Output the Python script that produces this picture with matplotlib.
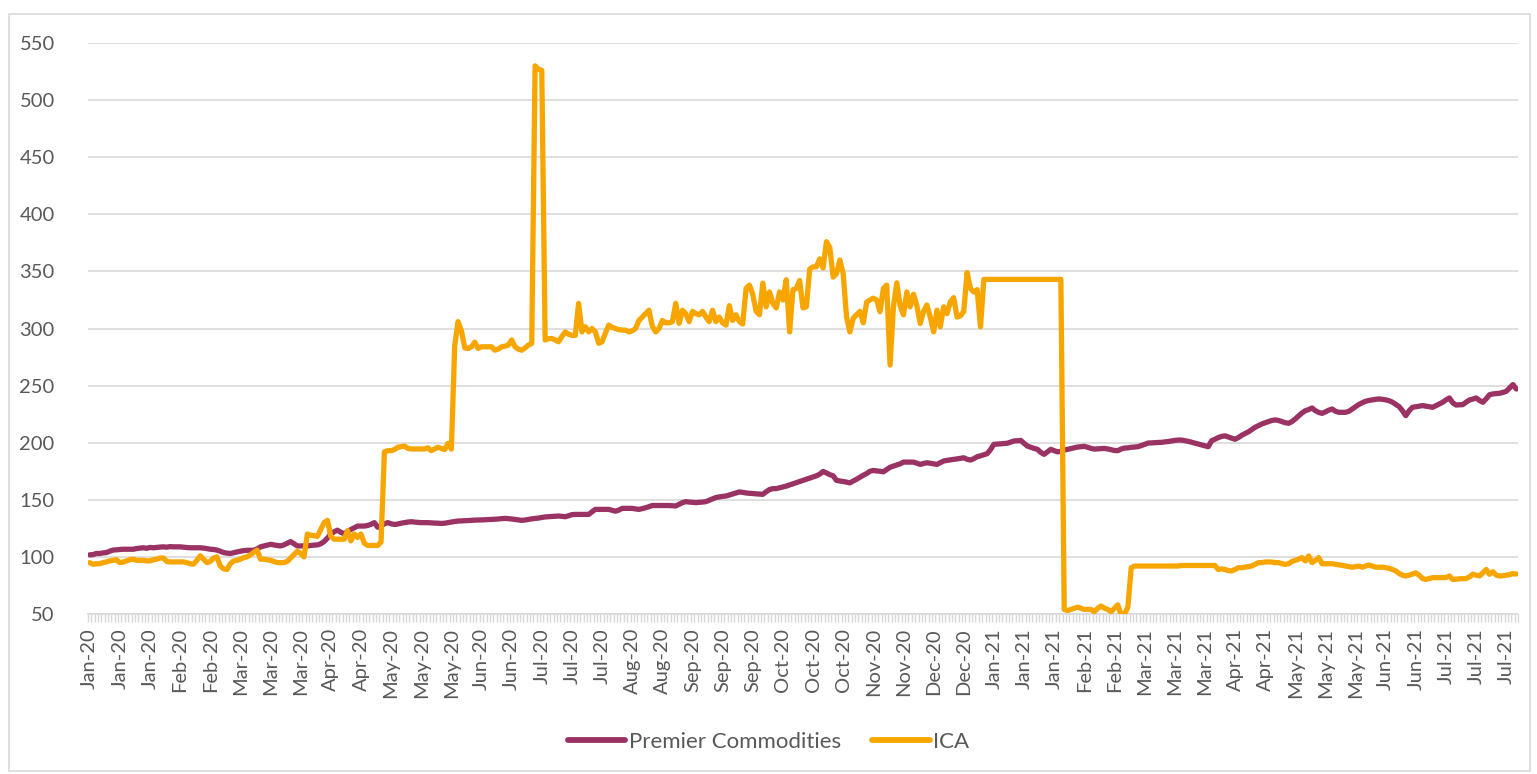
import matplotlib
matplotlib.use("Agg")
import matplotlib.pyplot as plt
from matplotlib.patches import Rectangle
import numpy as np

# one value per trading day, Jan-20 .. Jul-21
premier = [
    101.8, 102, 103, 103, 103.5, 103.8, 105, 106, 106.2, 106.5,
    106.7, 106.7, 106.7, 106.7, 107.3, 107.7, 108, 107.5, 108.3, 108,
    108.3, 108.6, 108.8, 108.5, 109, 108.8, 108.8, 108.8, 108.5, 108.2,
    108, 108, 108, 108, 107.7, 107.3, 106.7, 106.5, 106, 105,
    103.8, 103.3, 103, 103.7, 104.4, 105, 105.5, 105.8, 105.8, 105.8,
    107, 108.8, 109.5, 110.3, 111, 110.5, 110, 109.6, 110.5, 112,
    113.4, 111.5, 109.6, 109.6, 109.6, 109.6, 110, 110.3, 110.5, 111.5,
    113.4, 116.5, 120, 122, 123.4, 121.5, 120.4, 122, 124, 125.5,
    127, 127, 127, 127.5, 128.5, 130, 126, 127, 129, 130,
    129, 128.4, 128.8, 129.5, 130, 130.5, 130.8, 130.5, 130.2, 130,
    130, 130, 129.8, 129.6, 129.5, 129.3, 129.5, 130, 130.5, 131,
    131.4, 131.5, 131.7, 131.8, 132, 132.2, 132.3, 132.4, 132.5, 132.7,
    132.8, 133, 133.2, 133.5, 133.7, 133.5, 133.2, 132.8, 132.4, 132,
    132.3, 132.8, 133.3, 133.7, 134, 134.5, 135, 135.2, 135.4, 135.6,
    135.8, 135.5, 135.2, 136, 137, 137.2, 137.2, 137.2, 137.2, 137.2,
    139.5, 141.6, 141.6, 141.6, 141.6, 141.6, 140.8, 140, 141, 142.5,
    142.5, 142.5, 142.5, 142, 141.6, 142.3, 143, 144, 145, 145,
    145, 145, 145, 145, 144.8, 144.6, 146, 147.5, 148.4, 148,
    147.8, 147.5, 147.8, 148, 148.4, 149.6, 150.8, 152, 152.5, 153,
    153.3, 154.2, 155, 156, 156.9, 156.5, 156, 155.7, 155.5, 155.2,
    155, 154.8, 157, 159, 159.8, 159.8, 160.5, 161.2, 162, 163,
    164, 165, 166, 167, 168, 169, 170, 171, 172.5, 174.8,
    173.5, 172, 171, 167, 166.5, 166, 165.5, 164.8, 166.5, 168,
    169.8, 171.5, 173, 175, 175.7, 175.3, 175, 174.5, 176.5, 178.5,
    179.5, 180.5, 181.5, 183, 183, 183, 183, 182, 181, 181.8,
    182.4, 182, 181.5, 181, 182.5, 184, 184.5, 185, 185.4, 185.8,
    186.3, 186.8, 185.5, 184.8, 186, 187.7, 188.5, 189.5, 190.4, 194,
    198.6, 198.8, 199, 199.3, 199.5, 200.5, 201.5, 201.7, 202, 199.5,
    197, 196, 195, 194.2, 191.5, 189.8, 192, 194.2, 193, 192,
    192.4, 193.5, 194.2, 195, 195.5, 196.2, 196.5, 196.8, 196, 195,
    194.4, 194.6, 194.8, 195, 194.5, 193.8, 193.2, 193, 194.5, 195.3,
    195.5, 196, 196.2, 196.5, 197.5, 198.5, 199.7, 199.8, 200, 200.2,
    200.3, 200.7, 201, 201.5, 202, 202.3, 202.3, 201.8, 201.2, 200.4,
    199.5, 198.8, 198, 197.2, 196.5, 201.7, 203, 204.5, 205.5, 206,
    205, 204, 203, 204.5, 206.5, 208, 209.5, 211.5, 213.5, 215,
    216.4, 217.5, 218.5, 219.5, 219.9, 219.5, 218.5, 217.5, 217, 218.5,
    220.8, 223.5, 226, 228, 229, 230.4, 228, 226.5, 225.7, 227,
    228.5, 229.5, 227.5, 226.6, 226.6, 226.6, 227.5, 229.5, 231.6, 233.5,
    235, 236.3, 237, 237.5, 238, 238.3, 238, 237.5, 236.8, 235.5,
    233.5, 231.6, 228, 223.7, 228, 231, 231.5, 232, 232.5, 232,
    231.5, 231, 232.5, 234, 235.4, 237.5, 239.2, 235, 233, 233.2,
    233.3, 235.5, 237.4, 238.2, 239.2, 237, 235.4, 238.5, 242, 242.7,
    243, 243.3, 244, 245, 248, 250.9, 247,
]

ica = [
    95, 93.6, 94, 94, 95, 95.6, 96.5, 97, 97.5, 95,
    95.5, 96.5, 97.5, 98, 97, 97, 97, 96.5, 96.5, 97.5,
    98, 99, 99, 96, 95.6, 95.6, 95.6, 95.6, 95.6, 95,
    94, 93.6, 97, 101, 98, 95, 96, 99, 100, 92,
    89.5, 89, 94, 96.5, 97, 98, 99.4, 100, 101.8, 104,
    106, 98, 98, 97.5, 97, 96, 95, 95, 95, 96,
    99, 102, 105, 103, 100, 120, 119, 118.5, 118, 124,
    130, 132, 118, 115.5, 115.5, 115.5, 115.5, 123, 114, 120,
    117, 120, 112, 110, 110, 110, 110, 113, 192, 193,
    193, 194, 196, 196.5, 197, 195, 194.5, 194.5, 194.5, 194.5,
    194.5, 195.5, 193, 194.5, 196, 195, 194, 199.4, 194.4, 285,
    306, 298, 283, 282.5, 284, 288, 282.5, 284, 284, 284,
    284, 281, 282, 284, 284.5, 285.5, 290, 284, 282, 281,
    283, 285.5, 287, 530, 527, 526, 290, 291, 291.3, 290,
    288.4, 293, 297, 295, 294, 294, 322, 297, 301.6, 297,
    300, 297, 287, 288.4, 296, 303, 301, 300, 299, 298.6,
    298.6, 297, 298, 300, 307, 310, 313, 316, 302, 297,
    300, 307, 305, 305, 306, 322, 304.5, 316, 313, 306,
    315, 313, 312, 315, 310, 306, 316, 306, 310, 305,
    303, 320, 307, 312, 306, 304, 335, 338, 330, 315,
    312, 339.7, 319, 332, 322, 318, 332, 325, 342.7, 297,
    334, 335, 342, 318, 319, 352, 354, 354, 361, 353,
    376, 371, 345, 348, 360, 348, 310, 297, 309, 312,
    315, 305, 323, 325, 326.5, 325, 314.7, 335, 338, 268,
    319, 340, 320, 312, 332, 319, 330, 320, 304.4, 315,
    320.6, 310, 297, 316, 301.5, 319, 313, 323.5, 327, 310,
    311, 315, 349, 335, 332, 334, 301.5, 343, 343, 343,
    343, 343, 343, 343, 343, 343, 343, 343, 343, 343,
    343, 343, 343, 343, 343, 343, 343, 343, 343, 343,
    343, 54, 53, 54, 55, 56, 55, 54, 54, 54,
    52, 55, 57, 55, 54, 52, 55, 58, 49, 50,
    56, 90.5, 92, 92, 92, 92, 92, 92, 92, 92,
    92, 92, 92, 92, 92, 92, 92.5, 92.5, 92.5, 92.5,
    92.5, 92.5, 92.5, 92.5, 92.5, 92.5, 92.5, 89, 89.5, 89,
    88, 87.7, 89, 90.6, 90.5, 91, 91.5, 92, 93.5, 95,
    95, 95.5, 95.6, 95.5, 95, 95, 94, 93.5, 94, 96,
    97, 98, 99.4, 96.4, 100.8, 95, 97, 99.4, 94, 94,
    94, 94, 93.5, 93, 92.6, 92, 91.5, 91, 91.5, 92,
    91, 92, 92.9, 92, 91, 91, 91, 90.6, 90, 89,
    87.7, 85.5, 84, 83.3, 84, 85, 86, 84, 81, 80.3,
    81, 81.8, 81.8, 81.8, 81.8, 82, 83.3, 80.3, 80.5, 80.8,
    81, 81, 82.5, 84.8, 84, 83.3, 86, 89, 84.8, 87,
    84, 83.3, 83.5, 84, 84.5, 85.3, 85,
]

tick_labels = (
    ["Jan-20"] * 3 + ["Feb-20"] * 2 + ["Mar-20"] * 3 + ["Apr-20"] * 2
    + ["May-20"] * 3 + ["Jun-20"] * 2 + ["Jul-20"] * 3 + ["Aug-20"] * 2
    + ["Sep-20"] * 3 + ["Oct-20"] * 3 + ["Nov-20"] * 2 + ["Dec-20"] * 2
    + ["Jan-21"] * 3 + ["Feb-21"] * 2 + ["Mar-21"] * 3 + ["Apr-21"] * 2
    + ["May-21"] * 3 + ["Jun-21"] * 2 + ["Jul-21"] * 3
)
label_step = 9

plt.rcParams["font.family"] = ["Lato", "DejaVu Sans"]
text_color = "#595959"
grid_color = "#D9D9D9"

fig = plt.figure(figsize=(15.37, 7.74), dpi=100)
ax = fig.add_axes([88 / 1537, 1 - 614 / 774, 1430 / 1537, 571 / 774])

x_p = np.arange(len(premier))
x_i = np.arange(len(ica))
n = max(len(premier), len(ica))

ax.plot(x_p, premier, color="#9B3264", lw=3.8, label="Premier Commodities",
        solid_joinstyle="round", solid_capstyle="round", zorder=3)
ax.plot(x_i, ica, color="#F7A600", lw=3.8, label="ICA",
        solid_joinstyle="round", solid_capstyle="round", zorder=4)

ax.set_xlim(-0.5, n - 0.5)
ax.set_ylim(50, 550)
ax.set_yticks(np.arange(50, 551, 50))
ax.grid(axis="y", color=grid_color, lw=1.2)
ax.set_axisbelow(True)

pos = np.arange(len(tick_labels)) * label_step
ax.set_xticks(pos)
ax.set_xticklabels(tick_labels, rotation=90)
ax.set_xticks(np.arange(n + 1) - 0.5, minor=True)
ax.tick_params(axis="x", which="major", length=0, pad=10, labelsize=14.5,
               labelcolor=text_color)
ax.tick_params(axis="x", which="minor", length=6, width=1, color=grid_color)
ax.tick_params(axis="y", length=0, pad=24, labelsize=14.5, labelcolor=text_color)

for s in ["top", "right", "left"]:
    ax.spines[s].set_visible(False)
ax.spines["bottom"].set_color(grid_color)
ax.spines["bottom"].set_linewidth(1.2)

leg = fig.legend(loc="center", bbox_to_anchor=(0.5, 1 - 742 / 774), ncol=2,
                 frameon=False, fontsize=16, handlelength=2.6, handletextpad=0.15,
                 columnspacing=1.4, labelcolor=text_color)
for h in leg.legend_handles:
    h.set_solid_capstyle("round")
    h.set_linewidth(4.2)

fig.patches.append(Rectangle((9 / 1537, 3 / 774), 1521 / 1537, 757 / 774,
                             transform=fig.transFigure, fill=False,
                             edgecolor=grid_color, lw=1.2))

fig.savefig("out.png", dpi=100)
